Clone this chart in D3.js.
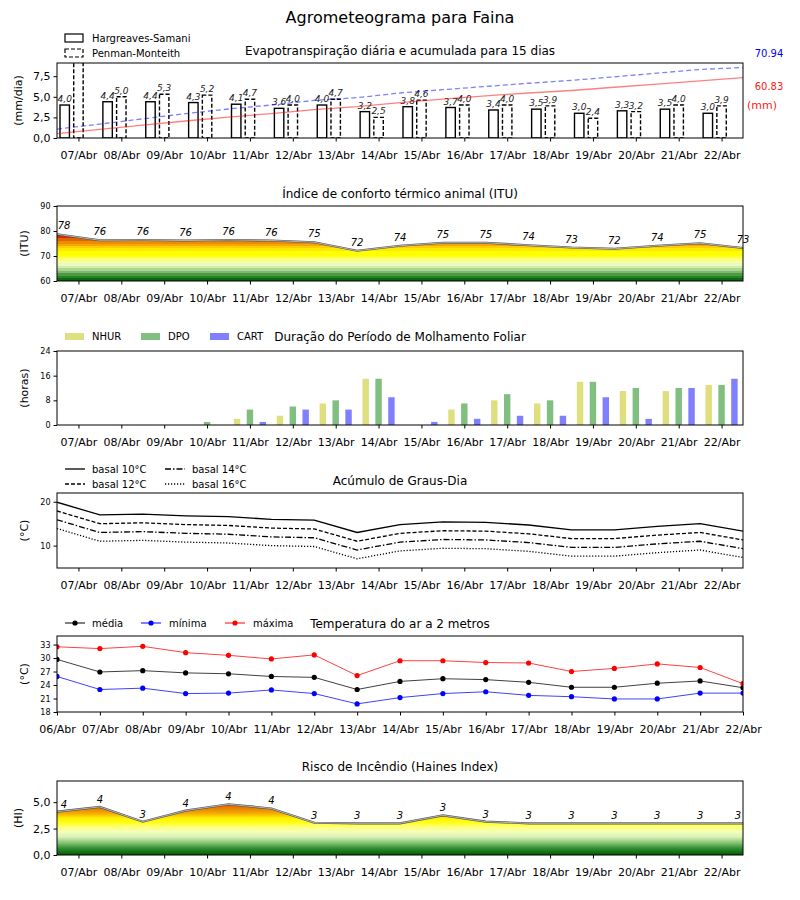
<!DOCTYPE html>
<html>
<head>
<meta charset="utf-8">
<script src="https://cdn.jsdelivr.net/npm/d3@7/dist/d3.min.js"></script>
<style>
  body { margin: 0; background: #fff; }
  text { font-family: "DejaVu Sans", sans-serif; }
</style>
</head>
<body>
<svg id="canvas" width="800" height="900"></svg>
<script>
// ---- data ----
const dias = ['07/Abr','08/Abr','09/Abr','10/Abr','11/Abr','12/Abr','13/Abr','14/Abr',
  '15/Abr','16/Abr','17/Abr','18/Abr','19/Abr','20/Abr','21/Abr','22/Abr']
const diasTemp = ['06/Abr'].concat(dias)

// evapotranspiracao (mm/dia)
const etHargreaves = [4.0,4.4,4.4,4.3,4.1,3.6,4.0,3.2,3.8,3.7,3.4,3.5,3.0,3.3,3.5,3.0]
const etPenman = [9.5,5.0,5.3,5.2,4.7,4.0,4.7,2.5,4.6,4.0,4.0,3.9,2.4,3.2,4.0,3.9]
// acumulado (mm)
const acumHargreaves = [4.3,8.6,12.9,17.1,21.1,24.6,28.5,31.6,35.7,39.2,42.5,45.3,47.8,51.1,54.3,57.6,60.83]
const acumPenman = [9.0,14.0,19.3,24.5,29.2,33.2,37.9,40.6,45.3,48.6,51.9,55.1,58.0,61.6,65.3,69.0,70.94]

// ITU
const itu = [78.7,76.3,76.4,76.2,76.4,76.2,75.5,72.1,74.1,75.3,75.3,74.3,73.4,72.9,74.1,75.1,73.2]
const coresITU = ['#0b6b0b','#2a802a','#4f9a45','#7fba68','#acd68f','#d2ecb0','#eafac0','#f6ffa8',
  '#fcff78','#ffff30','#ffff00','#ffff00','#ffe800','#ffcc00','#f7a800','#ee8c00','#e06400',
  '#d02c00','#c80000','#c00000']

// molhamento foliar (horas)
const nhur = [0,0,0,0,2,3,7,15,0,5,8,7,14,11,11,13]
const dpo  = [0,0,0,1,5,6,8,15,0,7,10,8,14,12,12,13]
const cart = [0,0,0,0,1,5,5,9,1,2,3,3,9,2,12,15]

// graus-dia
const basal10 = [19.9,17.0,17.2,16.8,16.6,16.0,15.8,13.0,14.8,15.4,15.3,14.7,13.6,13.6,14.4,15.0,13.3]
const basal12 = [17.9,15.0,15.2,14.8,14.6,14.0,13.8,11.0,12.8,13.4,13.3,12.7,11.6,11.6,12.4,13.0,11.3]
const basal14 = [15.9,13.0,13.2,12.8,12.6,12.0,11.8,9.0,10.8,11.4,11.3,10.7,9.6,9.6,10.4,11.0,9.3]
const basal16 = [13.9,11.0,11.2,10.8,10.6,10.0,9.8,7.0,8.8,9.4,9.3,8.7,7.6,7.6,8.4,9.0,7.3]

// temperatura (C)
const tMedia  = [29.7,26.9,27.2,26.7,26.5,25.9,25.7,23.0,24.8,25.4,25.2,24.6,23.5,23.5,24.4,24.9,23.4]
const tMinima = [25.9,23.0,23.3,22.1,22.2,22.9,22.1,19.8,21.2,22.1,22.5,21.7,21.4,20.9,20.9,22.2,22.2]
const tMaxima = [32.5,32.1,32.6,31.2,30.6,29.8,30.7,26.1,29.4,29.4,29.0,28.9,27.0,27.7,28.7,27.9,24.3]

// haines
const haines = [4.1,4.55,3.15,4.2,4.8,4.4,3.05,3.0,3.0,3.75,3.15,3.0,3.0,3.0,3.0,3.0,3.0]
const coresHaines = [[0,'#005a00'],[0.6,'#2e8b2e'],[1.2,'#8cc878'],[1.7,'#d8f0b8'],[2.2,'#f4ffb8'],
  [2.7,'#ffff70'],[3.1,'#ffff10'],[3.5,'#ffee00'],[3.9,'#f5b000'],[4.4,'#e88000'],[5.0,'#d85000'],[7,'#c00000']]

// ---- helpers ----
const svg = d3.select('#canvas')
const defs = svg.append('defs')
const x = d3.scaleLinear().domain([0, 16]).range([57, 743])
const virg = d => d3.format('.1f')(d).replace('.', ',')

svg.append('text').attr('x', 400).attr('y', 23).attr('text-anchor', 'middle')
  .attr('font-size', 16).text('Agrometeograma para Faina')

let nClip = 0
const makePanel = (o) => {
  const y = d3.scaleLinear().domain(o.domain).range([o.bottom, o.top])
  const id = 'clip' + (nClip++)
  defs.append('clipPath').attr('id', id).append('rect')
    .attr('x', x(0)).attr('y', o.top).attr('width', x(16) - x(0)).attr('height', o.bottom - o.top)
  const g = svg.append('g')
  const marks = g.append('g').attr('clip-path', `url(#${id})`)
  svg.append('text').attr('x', 400).attr('y', o.titleY).attr('text-anchor', 'middle')
    .attr('font-size', 12).text(o.title)
  svg.append('text').attr('transform', `translate(${o.labelX},${(o.top + o.bottom) / 2}) rotate(-90)`)
    .attr('text-anchor', 'middle').attr('font-size', 11).attr('dy', '0.35em').text(o.ylabel)
  const finish = () => {
    const ya = g.append('g').attr('transform', `translate(${x(0)},0)`)
      .call(d3.axisLeft(y).tickValues(o.yticks).tickFormat(o.yfmt || (d => d)).tickSize(3.5).tickPadding(3))
    ya.select('.domain').remove()
    ya.selectAll('text').attr('font-size', o.yFont || 8).attr('font-family', '"DejaVu Sans", sans-serif')
    const xt = o.xAxisTemp ? d3.range(17) : d3.range(16).map(i => i + 0.5)
    const labs = o.xAxisTemp ? diasTemp : dias
    const xa = g.append('g').attr('transform', `translate(0,${o.bottom})`)
      .call(d3.axisBottom(x).tickValues(xt).tickFormat((d, i) => labs[i]).tickSize(3.5).tickPadding(9.5))
    xa.select('.domain').remove()
    xa.selectAll('text').attr('font-size', 11).attr('font-family', '"DejaVu Sans", sans-serif')
    g.append('rect').attr('x', x(0)).attr('y', o.top).attr('width', x(16) - x(0))
      .attr('height', o.bottom - o.top).attr('fill', 'none').attr('stroke', '#000').attr('stroke-width', 1)
  }
  return { y, g, marks, finish }
}

// ---- 1. evapotranspiracao ----
const p1 = makePanel({ top: 63, bottom: 138, domain: [0, 9.1], yticks: [0, 2.5, 5, 7.5], yfmt: virg, yFont: 11,
  title: 'Evapotranspiração diária e acumulada para 15 dias', titleY: 55, ylabel: '(mm/dia)', labelX: 18 })
const y1b = d3.scaleLinear().domain([0, 75.5]).range([138, 63])
const bw = x(0.22) - x(0)
const series1 = [
  { v: etHargreaves, off: -0.32, dash: null },
  { v: etPenman, off: 0, dash: '4,2' }
]
series1.forEach(s => {
  p1.marks.selectAll(null).data(s.v).enter().append('rect')
    .attr('x', (d, i) => x(i + 0.5 + s.off) - bw / 2).attr('y', d => p1.y(d))
    .attr('width', bw).attr('height', d => p1.y(0) - p1.y(d))
    .attr('fill', '#fff').attr('stroke', '#000').attr('stroke-width', 1.4)
    .attr('stroke-dasharray', s.dash)
  p1.marks.selectAll(null).data(s.v).enter().append('text')
    .attr('x', (d, i) => x(i + 0.5 + s.off)).attr('y', d => p1.y(d) - 3)
    .attr('text-anchor', 'middle').attr('font-size', 9).attr('font-style', 'italic').attr('fill', '#222')
    .text(d => virg(d))
})
p1.marks.append('path').datum(acumHargreaves)
  .attr('d', d3.line().x((d, i) => x(i)).y(d => y1b(d)))
  .attr('fill', 'none').attr('stroke', '#ff0000').attr('stroke-opacity', 0.5).attr('stroke-width', 1.3)
p1.marks.append('path').datum(acumPenman)
  .attr('d', d3.line().x((d, i) => x(i)).y(d => y1b(d)))
  .attr('fill', 'none').attr('stroke', '#0000ff').attr('stroke-opacity', 0.5).attr('stroke-width', 1.3)
  .attr('stroke-dasharray', '5,3')
p1.finish()
svg.append('text').attr('x', 769).attr('y', 57).attr('text-anchor', 'middle').attr('font-size', 10)
  .attr('fill', '#0000ff').text(d3.format('.2f')(acumPenman[16]))
svg.append('text').attr('x', 769).attr('y', 90).attr('text-anchor', 'middle').attr('font-size', 10)
  .attr('fill', '#ff2020').text(d3.format('.2f')(acumHargreaves[16]))
svg.append('text').attr('x', 762).attr('y', 109).attr('text-anchor', 'middle').attr('font-size', 11)
  .attr('fill', '#ff2020').text('(mm)')
// legenda
const leg1 = [['Hargreaves-Samani', null], ['Penman-Monteith', '4,2']]
leg1.forEach((l, i) => {
  svg.append('rect').attr('x', 65).attr('y', 34 + i * 15).attr('width', 18).attr('height', 8)
    .attr('fill', '#fff').attr('stroke', '#000').attr('stroke-width', 1.2).attr('stroke-dasharray', l[1])
  svg.append('text').attr('x', 92).attr('y', 42 + i * 15).attr('font-size', 10).text(l[0])
})

// ---- 2. ITU ----
const p2 = makePanel({ top: 206, bottom: 281, domain: [60, 90], yticks: [60, 70, 80, 90],
  title: 'Índice de conforto térmico animal (ITU)', titleY: 198, ylabel: '(ITU)', labelX: 24 })
const gITU = defs.append('linearGradient').attr('id', 'gradITU').attr('gradientUnits', 'userSpaceOnUse')
  .attr('x1', 0).attr('x2', 0).attr('y1', p2.y(60)).attr('y2', p2.y(80))
coresITU.forEach((c, i) => {
  gITU.append('stop').attr('offset', i / 20).attr('stop-color', c)
  gITU.append('stop').attr('offset', (i + 1) / 20).attr('stop-color', c)
})
p2.marks.append('path').datum(itu)
  .attr('d', d3.area().x((d, i) => x(i)).y0(p2.y(60)).y1(d => p2.y(d)))
  .attr('fill', 'url(#gradITU)')
const lineITU = d3.line().x((d, i) => x(i)).y(d => p2.y(d))
p2.marks.append('path').datum(itu).attr('d', lineITU).attr('fill', 'none').attr('stroke', '#555').attr('stroke-width', 2.2)
p2.marks.append('path').datum(itu).attr('d', lineITU).attr('fill', 'none').attr('stroke', '#ccc').attr('stroke-width', 0.8)
p2.g.selectAll(null).data(itu).enter().append('text')
  .attr('x', (d, i) => x(i) + (i === 0 ? 7 : 0)).attr('y', d => p2.y(d) - 5)
  .attr('text-anchor', 'middle').attr('font-size', 10).attr('font-style', 'italic').text(d => Math.floor(d))
p2.finish()

// ---- 3. molhamento foliar ----
const p3 = makePanel({ top: 351, bottom: 425, domain: [0, 24], yticks: [0, 8, 16, 24],
  title: 'Duração do Período de Molhamento Foliar', titleY: 341, ylabel: '(horas)', labelX: 24 })
const series3 = [
  { nome: 'NHUR', v: nhur, off: -0.3, cor: '#dfdf80' },
  { nome: 'DPO', v: dpo, off: 0, cor: '#80bf80' },
  { nome: 'CART', v: cart, off: 0.3, cor: '#8080ff' }
]
const bw3 = x(0.15) - x(0)
series3.forEach(s => {
  p3.marks.selectAll(null).data(s.v).enter().append('rect')
    .attr('x', (d, i) => x(i + 0.5 + s.off) - bw3 / 2).attr('y', d => p3.y(d))
    .attr('width', bw3).attr('height', d => p3.y(0) - p3.y(d)).attr('fill', s.cor)
})
p3.finish()
const leg3x = [[65, 92], [141, 168], [210, 237]]
series3.forEach((s, i) => {
  svg.append('rect').attr('x', leg3x[i][0]).attr('y', 333).attr('width', 19).attr('height', 7).attr('fill', s.cor)
  svg.append('text').attr('x', leg3x[i][1]).attr('y', 340).attr('font-size', 10).text(s.nome)
})

// ---- 4. graus-dia ----
const p4 = makePanel({ top: 493, bottom: 568, domain: [4.9, 22], yticks: [10, 20],
  title: 'Acúmulo de Graus-Dia', titleY: 485, ylabel: '(°C)', labelX: 24 })
const series4 = [
  { nome: 'basal 10°C', v: basal10, dash: null },
  { nome: 'basal 12°C', v: basal12, dash: '4,2' },
  { nome: 'basal 14°C', v: basal14, dash: '6,2,1.5,2' },
  { nome: 'basal 16°C', v: basal16, dash: '1.2,1.8' }
]
series4.forEach(s => {
  p4.marks.append('path').datum(s.v)
    .attr('d', d3.line().x((d, i) => x(i)).y(d => p4.y(d)))
    .attr('fill', 'none').attr('stroke', '#000').attr('stroke-width', 1.3).attr('stroke-dasharray', s.dash)
})
p4.finish()
series4.forEach((s, i) => {
  const lx = i < 2 ? 65 : 165, ly = i % 2 === 0 ? 469 : 484
  svg.append('line').attr('x1', lx).attr('x2', lx + 20).attr('y1', ly).attr('y2', ly)
    .attr('stroke', '#000').attr('stroke-width', 1.3).attr('stroke-dasharray', s.dash)
  svg.append('text').attr('x', lx + 27).attr('y', ly + 3.5).attr('font-size', 10).text(s.nome)
})

// ---- 5. temperatura ----
const p5 = makePanel({ top: 636, bottom: 712, domain: [18, 34.9], yticks: [18, 21, 24, 27, 30, 33],
  title: 'Temperatura do ar a 2 metros', titleY: 628, ylabel: '(°C)', labelX: 24, xAxisTemp: true })
const series5 = [
  { nome: 'média', v: tMedia, cor: '#000' },
  { nome: 'mínima', v: tMinima, cor: '#0000ff' },
  { nome: 'máxima', v: tMaxima, cor: '#ff0000' }
]
series5.forEach(s => {
  p5.marks.append('path').datum(s.v)
    .attr('d', d3.line().x((d, i) => x(i)).y(d => p5.y(d)))
    .attr('fill', 'none').attr('stroke', s.cor).attr('stroke-opacity', 0.75).attr('stroke-width', 1)
  p5.marks.selectAll(null).data(s.v).enter().append('circle')
    .attr('cx', (d, i) => x(i)).attr('cy', d => p5.y(d)).attr('r', 2.6).attr('fill', s.cor)
})
p5.finish()
const leg5x = [[65, 92], [141, 169], [225, 253]]
series5.forEach((s, i) => {
  const lx = leg5x[i][0]
  svg.append('line').attr('x1', lx).attr('x2', lx + 20).attr('y1', 623).attr('y2', 623)
    .attr('stroke', s.cor).attr('stroke-width', 1)
  svg.append('circle').attr('cx', lx + 10).attr('cy', 623).attr('r', 2.6).attr('fill', s.cor)
  svg.append('text').attr('x', leg5x[i][1]).attr('y', 626.5).attr('font-size', 10).text(s.nome)
})

// ---- 6. haines ----
const p6 = makePanel({ top: 781, bottom: 855, domain: [0, 7], yticks: [0, 2.5, 5], yfmt: virg, yFont: 11,
  title: 'Risco de Incêndio (Haines Index)', titleY: 771, ylabel: '(HI)', labelX: 18 })
const gH = defs.append('linearGradient').attr('id', 'gradHaines').attr('gradientUnits', 'userSpaceOnUse')
  .attr('x1', 0).attr('x2', 0).attr('y1', p6.y(0)).attr('y2', p6.y(7))
coresHaines.forEach(c => gH.append('stop').attr('offset', c[0] / 7).attr('stop-color', c[1]))
p6.marks.append('path').datum(haines)
  .attr('d', d3.area().x((d, i) => x(i)).y0(p6.y(0)).y1(d => p6.y(d)))
  .attr('fill', 'url(#gradHaines)')
const lineH = d3.line().x((d, i) => x(i)).y(d => p6.y(d))
p6.marks.append('path').datum(haines).attr('d', lineH).attr('fill', 'none').attr('stroke', '#555').attr('stroke-width', 2.2)
p6.marks.append('path').datum(haines).attr('d', lineH).attr('fill', 'none').attr('stroke', '#ccc').attr('stroke-width', 0.8)
p6.g.selectAll(null).data(haines).enter().append('text')
  .attr('x', (d, i) => x(i) + (i === 0 ? 7 : (i === 16 ? -5 : 0))).attr('y', d => p6.y(d) - 4)
  .attr('text-anchor', 'middle').attr('font-size', 10).attr('font-style', 'italic').text(d => Math.floor(d))
p6.finish()
</script>
</body>
</html>
